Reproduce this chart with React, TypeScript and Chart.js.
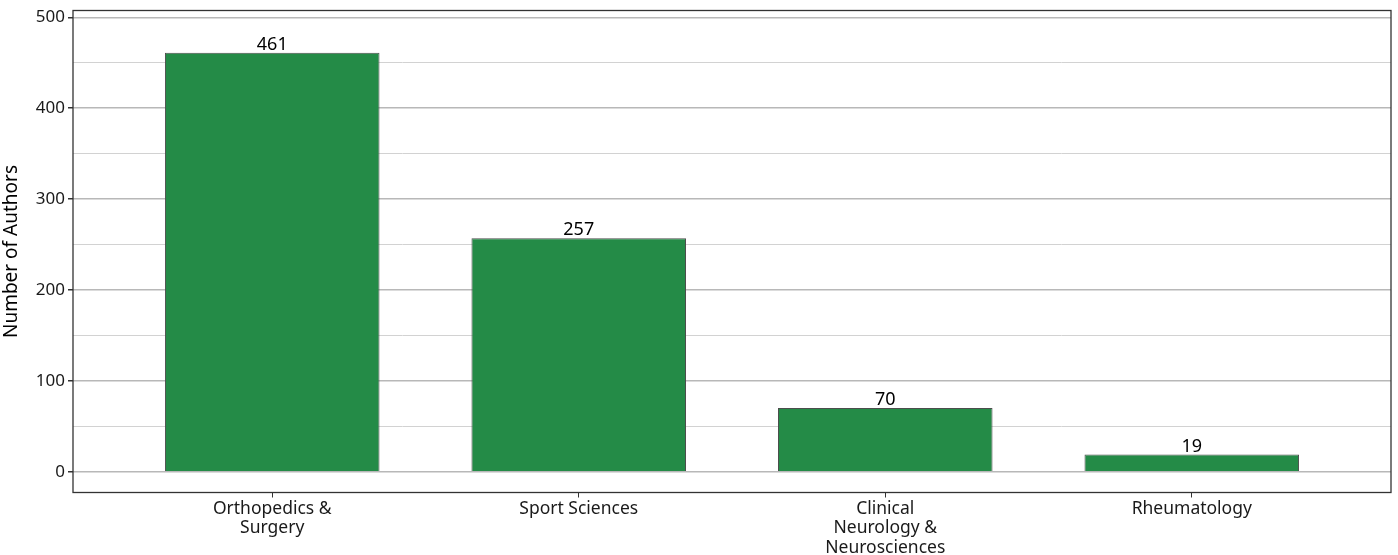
import React, { useEffect, useRef } from "react";
import { Chart, registerables } from "chart.js";

Chart.register(...registerables);

const categories: string[][] = [
  ["Orthopedics &", "Surgery"],
  ["Sport Sciences"],
  ["Clinical", "Neurology &", "Neurosciences"],
  ["Rheumatology"],
];
const authors: number[] = [461, 257, 70, 19];
const yTicks: number[] = [0, 50, 100, 150, 200, 250, 300, 350, 400, 450, 500];
const yTitle = "Number of Authors";

const FONT = "'Noto Sans', 'Open Sans', sans-serif";

export default function App() {
  const ref = useRef<HTMLCanvasElement | null>(null);

  useEffect(() => {
    document.body.style.margin = "0";
    const canvas = ref.current;
    if (!canvas) return;

    const frame = {
      id: "frame",
      afterDraw(chart: any) {
        const { ctx, chartArea: a } = chart;
        ctx.save();
        ctx.strokeStyle = "#333333";
        ctx.lineWidth = 1.3;
        ctx.strokeRect(a.left, a.top, a.right - a.left, a.bottom - a.top);
        ctx.restore();
      },
    };

    const labels = {
      id: "valueLabels",
      afterDatasetsDraw(chart: any) {
        const { ctx } = chart;
        const meta = chart.getDatasetMeta(0);
        ctx.save();
        ctx.font = `18px ${FONT}`;
        ctx.fillStyle = "#000000";
        ctx.textAlign = "center";
        ctx.textBaseline = "bottom";
        meta.data.forEach((el: any, i: number) => {
          ctx.fillText(String(authors[i]), el.x, el.y + 1);
        });
        ctx.restore();
      },
    };

    const chart = new Chart(canvas, {
      type: "bar",
      data: {
        datasets: [
          {
            data: authors.map((v, i) => ({ x: i + 1, y: v })),
            backgroundColor: "#248B47",
            borderColor: "#4d4d4d",
            borderWidth: 1,
            barPercentage: 0.7,
            categoryPercentage: 1,
          },
        ],
      },
      options: {
        animation: false,
        responsive: false,
        layout: { padding: { left: 0, top: 10.5, right: 7, bottom: 0 } },
        plugins: { legend: { display: false }, tooltip: { enabled: false } },
        scales: {
          x: {
            type: "linear",
            offset: false,
            min: 0.35,
            max: 4.65,
            afterBuildTicks(scale: any) {
              scale.ticks = categories.map((_, i) => ({ value: i + 1 }));
            },
            afterFit(scale: any) {
              scale.height = 62.5;
              scale.paddingLeft = 0;
              scale.paddingRight = 0;
            },
            ticks: {
              autoSkip: false,
              maxRotation: 0,
              font: { family: FONT, size: 17.5, lineHeight: 1.1 },
              color: "#1a1a1a",
              padding: 2,
              callback: (v: any) => categories[Number(v) - 1] ?? "",
            },
            grid: {
              offset: false,
              drawOnChartArea: false,
              drawTicks: true,
              tickLength: 5,
              tickColor: "#333333",
            },
            border: { display: false },
          },
          y: {
            min: -22.9,
            max: 507.5,
            afterBuildTicks(scale: any) {
              scale.ticks = yTicks.map((v) => ({ value: v }));
            },
            afterFit(scale: any) {
              scale.width = 73;
              scale.paddingTop = 0;
              scale.paddingBottom = 0;
            },
            ticks: {
              font: { family: FONT, size: 17 },
              color: "#1a1a1a",
              padding: 3,
              callback: (v: any) => (Number(v) % 100 === 0 ? String(v) : ""),
            },
            grid: {
              color: (c: any) =>
                c.tick && c.tick.value % 100 === 0 ? "#b8b8b8" : "#d2d2d2",
              lineWidth: (c: any) =>
                c.tick && c.tick.value % 100 === 0 ? 1.5 : 1,
              tickColor: (c: any) =>
                c.tick && c.tick.value % 100 === 0 ? "#333333" : "rgba(0,0,0,0)",
              tickLength: 5,
              drawTicks: true,
            },
            border: { display: false },
            title: {
              display: true,
              text: yTitle,
              font: { family: FONT, size: 19 },
              color: "#000000",
              padding: { top: 0, bottom: 4 },
            },
          },
        },
      },
      plugins: [frame, labels],
    } as any);

    return () => chart.destroy();
  }, []);

  return (
    <div style={{ width: 1398, height: 555 }}>
      <canvas ref={ref} width={1398} height={555} style={{ display: "block" }} />
    </div>
  );
}
